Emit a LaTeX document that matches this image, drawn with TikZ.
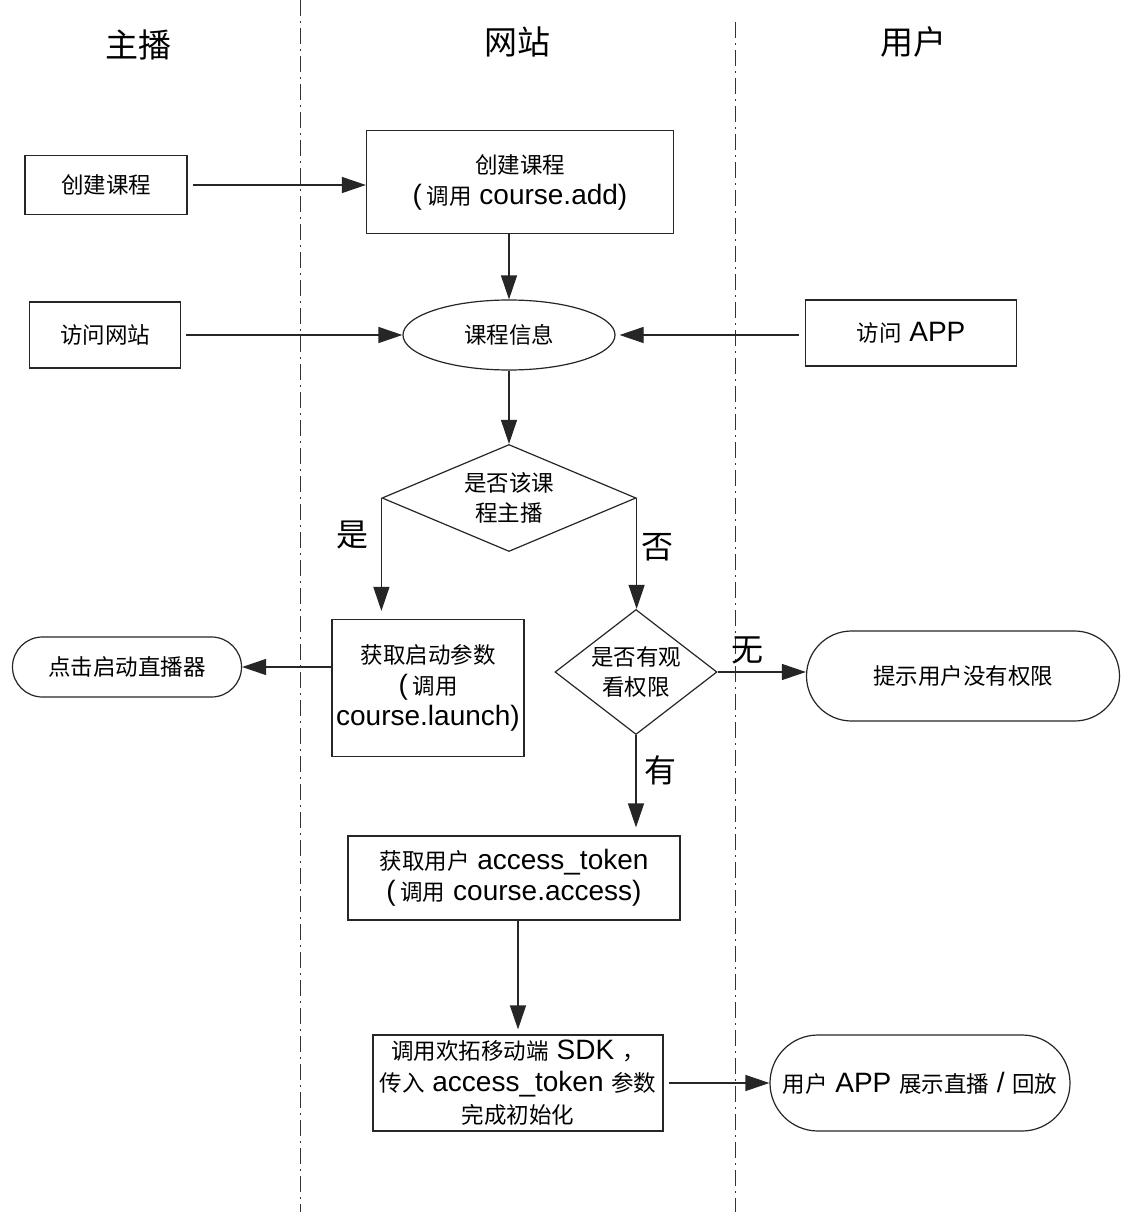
\documentclass[tikz,border=0pt]{standalone}
\usepackage{fontspec}
\setmainfont{Liberation Sans}
\newfontfamily\cjk{Noto Sans CJK SC}
\usetikzlibrary{arrows.meta,shapes.geometric}
\newcommand\zh[1]{{\cjk\fontsize{22.5}{27}\selectfont #1}}
\newcommand\latinsz{\fontsize{28}{31}\selectfont}
\tikzset{
  ln/.style={line width=1.2pt, draw=black!85},
  arr/.style={ln, -{Triangle[length=24pt,width=16pt]}},
  lane/.style={line width=1pt, draw=black!80, dash pattern=on 16pt off 5pt on 2pt off 5pt},
  hdr/.style={font=\cjk\fontsize{33}{36}\selectfont, inner sep=0pt},
  lbl/.style={font=\cjk\fontsize{32}{34}\selectfont, inner sep=0pt},
  boxn/.style={ln, rectangle, align=center, inner sep=1pt, font=\latinsz},
  elln/.style={ln, ellipse, inner sep=0pt, align=center},
  stad/.style={ln, rectangle, rounded corners=#1, inner sep=0pt, align=center},
  dia/.style={ln, diamond, inner sep=0pt},
  diatext/.style={inner sep=0pt, align=center, font=\cjk\fontsize{22.5}{30}\selectfont},
}
\begin{document}
\begin{tikzpicture}[x=1pt,y=-1pt]
\useasboundingbox[fill=white] (0,0) rectangle (1121,1212);
% lanes
\coordinate (l1t) at (300,0); \coordinate (l1b) at (300,1212);
\coordinate (l2t) at (735,22); \coordinate (l2b) at (735,1212);
\draw[lane] (l1t) -- (l1b);
\draw[lane] (l2t) -- (l2b);
% headers
\node[hdr] (h1) at (138,45) {主播};
\node[hdr] (h2) at (517,42) {网站};
\node[hdr] (h3) at (913,42) {用户};
% nodes
\node[boxn, minimum width=162pt, minimum height=59pt] (lb1) at (106,185) {\zh{创建课程}};
\node[boxn, minimum width=307pt, minimum height=103pt] (b2) at (520,182) {\zh{创建课程}\\(\,\zh{调用} course.add)};
\node[boxn, minimum width=151pt, minimum height=66pt] (lb2) at (105,335) {\zh{访问网站}};
\node[elln, minimum width=212pt, minimum height=70pt] (ell) at (509,335) {\zh{课程信息}};
\node[boxn, minimum width=211pt, minimum height=66pt] (rb) at (911,333) {\zh{访问} APP};
\node[dia, minimum width=254pt, minimum height=107pt] (d1) at (509,498) {};
\node[diatext] (d1t) at (d1.center) {是否该课\\程主播};
\node[boxn, minimum width=192pt, minimum height=137pt] (b3) at (428,688) {\zh{获取启动参数}\\(\,\zh{调用}\\course.launch)};
\node[stad=30pt, minimum width=229pt, minimum height=60pt] (st1) at (127,667) {\zh{点击启动直播器}};
\node[dia, minimum width=162pt, minimum height=125pt] (d2) at (636,672) {};
\node[diatext] (d2t) at (d2.center) {是否有观\\看权限};
\node[stad=45pt, minimum width=313pt, minimum height=90pt] (st2) at (963,676) {\zh{提示用户没有权限}};
\node[boxn, minimum width=332pt, minimum height=84pt] (b4) at (514,878) {\zh{获取用户} access\_token\\(\,\zh{调用} course.access)};
\node[boxn, minimum width=290pt, minimum height=96pt, font=\fontsize{28}{32}\selectfont] (b5) at (518,1083) {\zh{调用欢拓移动端} SDK \zh{，}\\\zh{传入} access\_token \zh{参数}\\\zh{完成初始化}};
\node[stad=48pt, minimum width=300pt, minimum height=96pt, font=\latinsz] (st3) at (920,1083) {\zh{用户} APP \zh{展示直播} / \zh{回放}};
% labels
\node[lbl] (ly) at (352,535) {是};
\node[lbl] (ln) at (657,547) {否};
\node[lbl] (lh) at (660,770) {有};
\node[lbl] (lw) at (747,650) {无};
% connectors
\draw[arr, shorten <=5pt] (lb1.east) -- (lb1.east -| b2.west);
\draw[arr] (ell.north |- b2.south) -- (ell.north);
\draw[arr, shorten <=5pt] (lb2.east) -- (ell.west);
\draw[arr, shorten <=6pt, shorten >=4pt] (rb.west |- ell.east) -- (ell.east);
\draw[arr] (ell.south) -- (d1.north);
\draw[arr, shorten >=8pt] (d1.west) -- (d1.west |- b3.north);
\draw[arr] (d1.east) -- (d1.east |- d2.north);
\draw[arr] (b3.west |- st1.east) -- (st1.east);
\draw[arr] (d2.east) -- (d2.east -| st2.west);
\draw[arr, shorten >=8pt] (d2.south) -- (d2.south |- b4.north);
\draw[arr, shorten >=5pt] (b5.north |- b4.south) -- (b5.north);
\draw[arr, shorten <=5pt] (b5.east) -- (st3.west);
\end{tikzpicture}
\end{document}
